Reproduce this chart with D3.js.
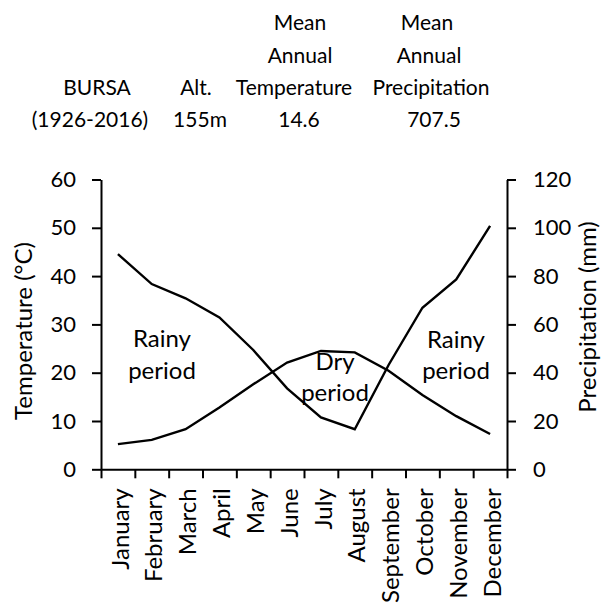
<!DOCTYPE html>
<html>
<head>
<meta charset="utf-8">
<script src="https://cdn.jsdelivr.net/npm/d3@7"></script>
<style>
  body { margin: 0; background: #fff; }
  svg text { font-family: Lato, "Open Sans", sans-serif; fill: #000; }
</style>
</head>
<body>
<script>
// climate diagram data
var months = ["January", "February", "March", "April", "May", "June",
              "July", "August", "September", "October", "November", "December"];
var temperature = [5.2, 6.1, 8.3, 12.8, 17.6, 22.1, 24.5, 24.2, 20.4, 15.4, 11.0, 7.3];
var precipitation = [89.1, 76.7, 70.8, 62.9, 49.4, 33.5, 21.5, 16.6, 43.2, 66.9, 78.6, 100.8];
var tempTicks = [0, 10, 20, 30, 40, 50, 60];
var precTicks = [0, 20, 40, 60, 80, 100, 120];

// header table, one array per column
var colStation = ["", "", "BURSA", "(1926-2016)"];
var colAlt = ["", "", "Alt.", "155m"];
var colTemp = ["Mean", "Annual", "Temperature", "14.6"];
var colPrec = ["Mean", "Annual", "Precipitation", "707.5"];

var width = 606, height = 608;
var plotLeft = 101, plotRight = 507, plotTop = 179.5, plotBottom = 469.3;

var svg = d3.select("body").append("svg")
    .attr("width", width)
    .attr("height", height);

var x = d3.scaleBand().domain(months).range([plotLeft, plotRight]);
var xEdge = d3.scaleLinear().domain([0, 12]).range([plotLeft, plotRight]);
var yT = d3.scaleLinear().domain([0, 60]).range([plotBottom, plotTop]);
var yP = d3.scaleLinear().domain([0, 120]).range([plotBottom, plotTop]);

// header
var headerCols = [
  { text: colStation, x: [97, 97, 97, 90] },
  { text: colAlt, x: [196, 196, 196, 200] },
  { text: colTemp, x: [300, 300, 294, 299] },
  { text: colPrec, x: [427, 429, 431, 434] }
];
var rowY = [29.5, 62.5, 95, 127];
headerCols.forEach(function (c) {
  svg.append("g").selectAll("text")
    .data(c.text)
    .enter().append("text")
    .attr("x", function (d, i) { return c.x[i]; })
    .attr("y", function (d, i) { return rowY[i]; })
    .attr("text-anchor", "middle")
    .style("font-size", "21px")
    .text(function (d) { return d; });
});

function styleAxis(g) {
  g.selectAll("path, line").attr("stroke", "#000").attr("stroke-width", 2);
  g.selectAll("text").style("font-size", "22px").attr("fill", "#000");
}

// left axis
svg.append("g")
    .attr("transform", "translate(" + plotLeft + ",0)")
    .call(d3.axisLeft(yT).tickValues(tempTicks).tickSize(9).tickSizeOuter(0).tickPadding(16))
    .call(styleAxis);

// right axis
svg.append("g")
    .attr("transform", "translate(" + plotRight + ",0)")
    .call(d3.axisRight(yP).tickValues(precTicks).tickSize(9).tickSizeOuter(0).tickPadding(17))
    .call(styleAxis);

// bottom axis: ticks on the month boundaries, labels in the middle
svg.append("g")
    .attr("transform", "translate(0," + plotBottom + ")")
    .call(d3.axisBottom(xEdge).ticks(12).tickSize(9).tickSizeOuter(0).tickFormat(""))
    .call(styleAxis);

svg.append("g")
    .attr("transform", "translate(0," + plotBottom + ")")
    .call(d3.axisBottom(x).tickSize(0).tickPadding(0))
    .call(function (g) {
      g.select(".domain").remove();
      g.selectAll("text")
        .style("font-size", "24px")
        .attr("text-anchor", "end")
        .attr("transform", "translate(2,19) rotate(-90)")
        .attr("x", 0)
        .attr("y", 0)
        .attr("dy", "0.36em");
    });

// axis titles
svg.append("text")
    .attr("transform", "translate(32,331) rotate(-90)")
    .attr("text-anchor", "middle")
    .style("font-size", "24px")
    .text("Temperature (°C)");

svg.append("text")
    .attr("transform", "translate(596,317) rotate(-90)")
    .attr("text-anchor", "middle")
    .style("font-size", "24px")
    .text("Precipitation (mm)");

// lines
var lineT = d3.line()
    .x(function (d, i) { return x(months[i]) + x.bandwidth() / 2; })
    .y(function (d) { return yT(d); });
var lineP = d3.line()
    .x(function (d, i) { return x(months[i]) + x.bandwidth() / 2; })
    .y(function (d) { return yP(d); });

svg.append("path")
    .datum(temperature)
    .attr("d", lineT)
    .attr("fill", "none")
    .attr("stroke", "#000")
    .attr("stroke-width", 2.4);

svg.append("path")
    .datum(precipitation)
    .attr("d", lineP)
    .attr("fill", "none")
    .attr("stroke", "#000")
    .attr("stroke-width", 2.4);

// period labels
var periods = [
  { lines: ["Rainy", "period"], x: 162, y: 347 },
  { lines: ["Dry", "period"], x: 335, y: 369.5 },
  { lines: ["Rainy", "period"], x: 456, y: 347.5 }
];
periods.forEach(function (p) {
  svg.append("g").selectAll("text")
    .data(p.lines)
    .enter().append("text")
    .attr("x", p.x)
    .attr("y", function (d, i) { return p.y + i * 31.5; })
    .attr("text-anchor", "middle")
    .style("font-size", "24px")
    .text(function (d) { return d; });
});
</script>
</body>
</html>
